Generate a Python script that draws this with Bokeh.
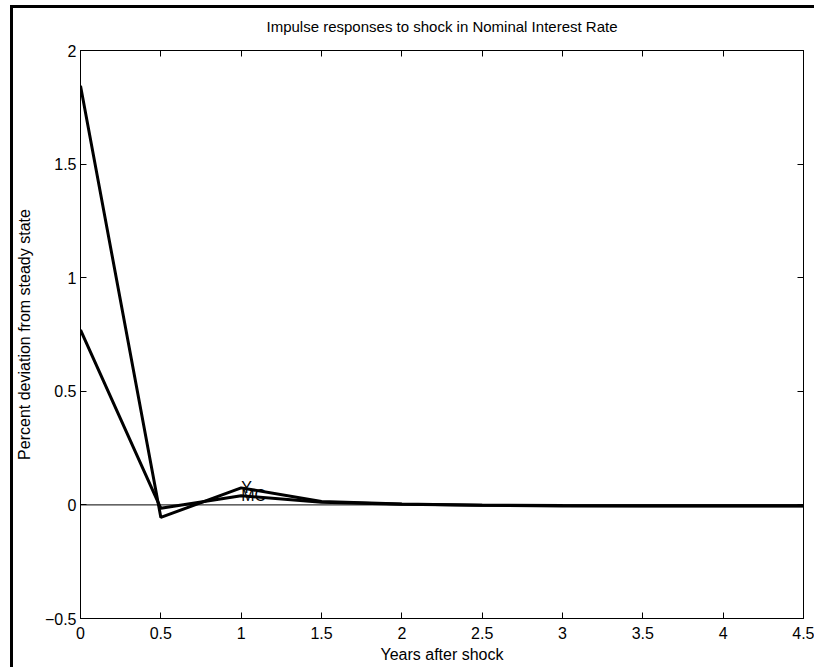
from bokeh.plotting import figure
from bokeh.models import LinearAxis, FixedTicker, Span, Range1d
from bokeh.core.properties import value
from bokeh.embed import file_html
from bokeh.resources import INLINE

# data
years = [0.0, 0.5, 1.0, 1.5, 2.0, 2.5, 3.0, 3.5, 4.0, 4.5]
y_resp = [1.845, -0.055, 0.075, 0.015, 0.004, -0.002, -0.005, -0.005, -0.005, -0.005]
mc_resp = [0.77, -0.015, 0.040, 0.012, 0.003, -0.001, -0.003, -0.004, -0.004, -0.004]
series_names = ["Y", "MC"]
label_x = 1.0
label_y = [0.075, 0.040]
x_ticks = [0, 0.5, 1, 1.5, 2, 2.5, 3, 3.5, 4, 4.5]
x_tick_labels = ["0", "0.5", "1", "1.5", "2", "2.5", "3", "3.5", "4", "4.5"]
y_ticks = [-0.5, 0, 0.5, 1, 1.5, 2]
y_tick_labels = ["\u22120.5", "0", "0.5", "1", "1.5", "2"]

FONT = "Liberation Sans"

frame_bg = ("linear-gradient(#000,#000) 0px 5px / 100% 3px no-repeat, "
            "linear-gradient(#000,#000) 0px 5px / 3px 100% no-repeat")

p = figure(width=804, height=667, output_backend="svg", toolbar_location=None,
           x_range=Range1d(0, 4.5), y_range=Range1d(-0.5, 2),
           min_border_left=70, min_border_right=11, min_border_top=50, min_border_bottom=49,
           title="Impulse responses to shock in Nominal Interest Rate",
           styles={"margin-top": "0px", "margin-left": "10px", "background": frame_bg})
p.grid.visible = False
p.outline_line_color = "black"
p.outline_line_width = 1
p.background_fill_color = "white"
p.border_fill_alpha = 0

p.title.align = "center"
p.title.vertical_align = "top"
p.title.text_font = FONT
p.title.text_font_size = "15px"
p.title.text_font_style = "normal"
p.title.text_color = "black"
p.title.offset = 0
p.title.standoff = 28

def style_axis(ax, ticks, labels, show_labels=True):
    ax.ticker = FixedTicker(ticks=ticks)
    ax.major_label_overrides = {t: l for t, l in zip(ticks, labels)}
    ax.major_tick_in = 6
    ax.major_tick_out = 0
    ax.minor_tick_in = 0
    ax.minor_tick_out = 0
    ax.axis_line_color = "black"
    ax.major_tick_line_color = "black"
    ax.major_label_text_font = FONT
    ax.major_label_text_font_size = "16px" if show_labels else "0px"
    ax.major_label_text_color = "black"
    ax.axis_label_text_font = FONT
    ax.axis_label_text_font_size = "16px"
    ax.axis_label_text_font_style = "normal"
    ax.axis_label_text_color = "black"
    if not show_labels:
        ax.major_label_standoff = 0

xa = p.xaxis[0]
style_axis(xa, x_ticks, x_tick_labels)
xa.axis_label = "Years after shock"
xa.major_label_standoff = 8
xa.axis_label_standoff = 4

ya = p.yaxis[0]
style_axis(ya, y_ticks, y_tick_labels)
ya.axis_label = "Percent deviation from steady state"
ya.major_label_standoff = 4
ya.axis_label_standoff = 9

top = LinearAxis()
style_axis(top, x_ticks, [""] * len(x_ticks), show_labels=False)
p.add_layout(top, "above")
right = LinearAxis()
style_axis(right, y_ticks, [""] * len(y_ticks), show_labels=False)
p.add_layout(right, "right")

p.add_layout(Span(location=0, dimension="width", line_color="black", line_width=1))

p.line(years, y_resp, line_color="black", line_width=3)
p.line(years, mc_resp, line_color="black", line_width=3)

p.text(x=[label_x, label_x], y=label_y, text=series_names,
       text_font=value(FONT), text_font_size="16px", text_color="black",
       text_align="left", text_baseline="middle")

open("out.html", "w").write(file_html(p, INLINE))
